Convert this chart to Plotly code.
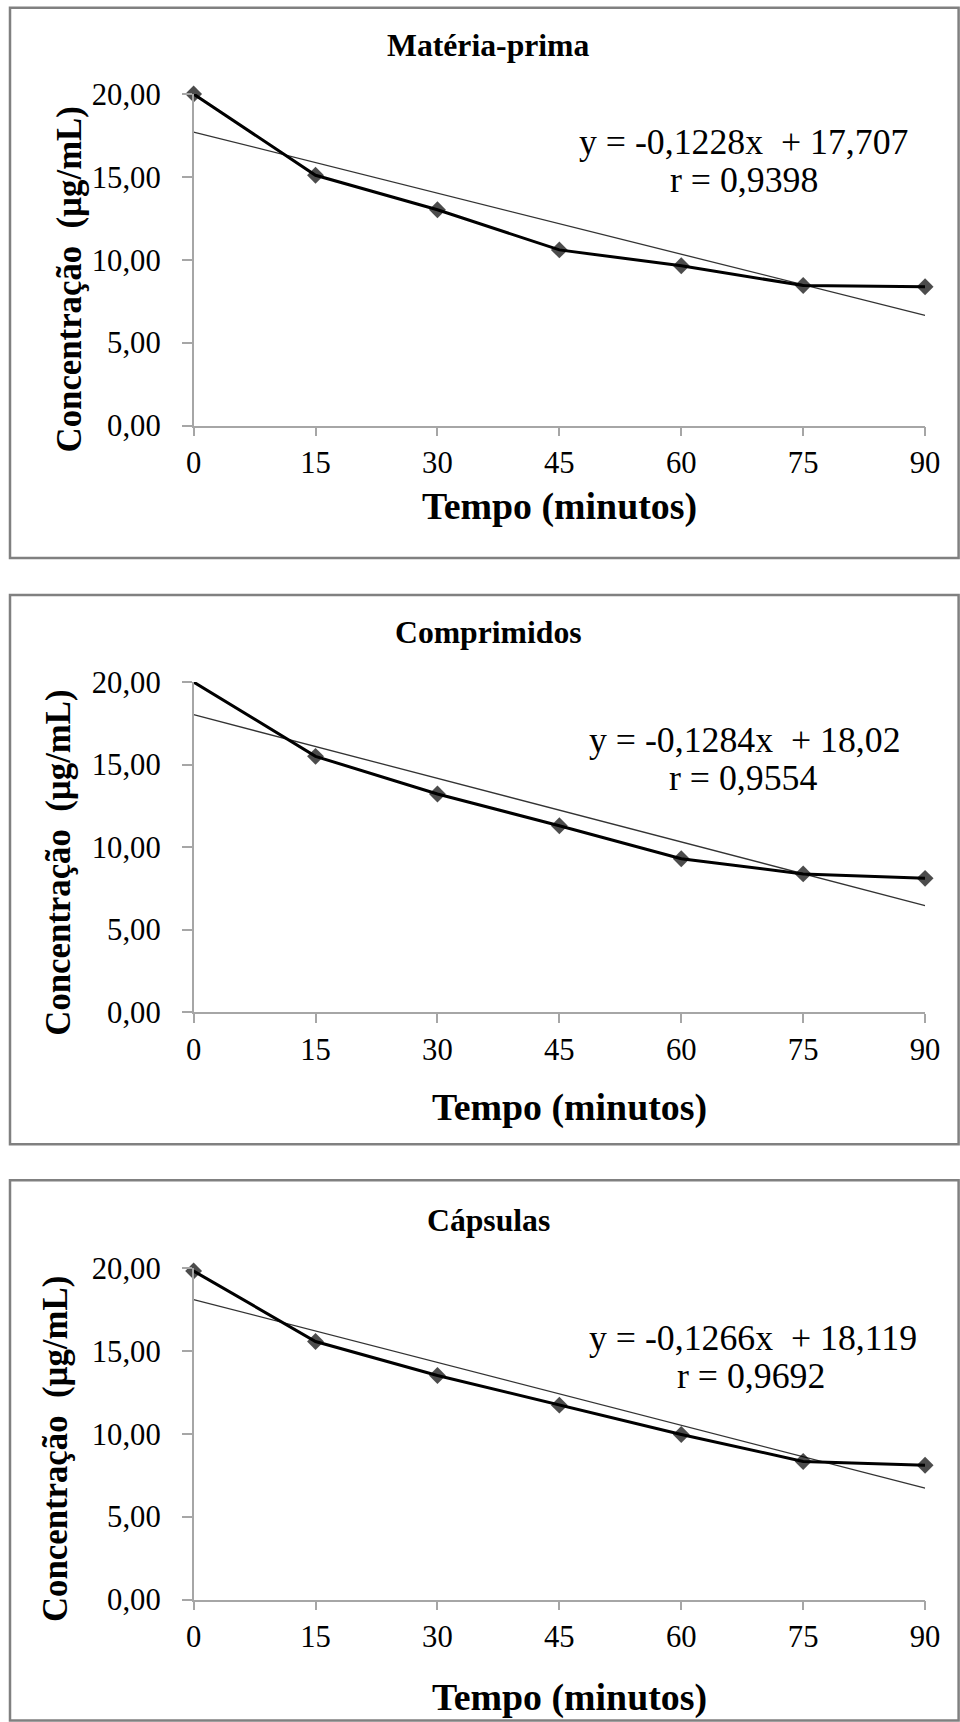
import plotly.graph_objects as go

# ---------------- data ----------------
tempo = [0, 15, 30, 45, 60, 75, 90]
materia_prima = [20.00, 15.10, 13.02, 10.60, 9.64, 8.45, 8.38]
comprimidos = [20.00, 15.50, 13.22, 11.30, 9.30, 8.38, 8.11]
capsulas = [19.84, 15.58, 13.53, 11.74, 9.97, 8.34, 8.11]
series = [materia_prima, comprimidos, capsulas]
titulos = ["Matéria-prima", "Comprimidos", "Cápsulas"]
slopes = [-0.1228, -0.1284, -0.1266]
intercepts = [17.707, 18.02, 18.119]
eq_texts = ["y = -0,1228x&nbsp; + 17,707", "y = -0,1284x&nbsp; + 18,02", "y = -0,1266x&nbsp; + 18,119"]
r_texts = ["r = 0,9398", "r = 0,9554", "r = 0,9692"]
first_marker = [True, False, True]
x_ticks = [0, 15, 30, 45, 60, 75, 90]
y_ticks = [0, 5, 10, 15, 20]
y_tick_labels = ["0,00", "5,00", "10,00", "15,00", "20,00"]
x_title = "Tempo (minutos)"
y_title = "Concentração&nbsp; (µg/mL)"

# ---------------- geometry ----------------
# Observed page mapping: screen = O + S * figure
SX, OX = 0.976, 7.5
SY, OY = 0.980, 16.3
W, H = 984, 1745
def px(x):
    return ((x - OX) / SX) / W
def py(y):
    return 1 - ((y - OY) / SY) / H
def fs(v):
    return v / ((SX + SY) / 2)

plot_x = (193, 924)
panels = [
    dict(y20=94.3, y0=425.7, box=(9.5, 8, 957.5, 558), title=(488, 46), xt=(559, 507), yt=(69, 280), eq=(743, 142), r=(743, 180)),
    dict(y20=682, y0=1012, box=(9.5, 595, 957.5, 1144), title=(488, 632), xt=(569, 1107), yt=(58, 863), eq=(744, 740), r=(742, 778)),
    dict(y20=1268, y0=1599, box=(9.5, 1180, 957.5, 1720), title=(488, 1220), xt=(569, 1697), yt=(55, 1449), eq=(752, 1338), r=(750, 1376)),
]

FONT = "Liberation Serif, Times New Roman, serif"
AXIS_COLOR = "#a6a6a6"

fig = go.Figure()
layout = dict(
    width=W, height=H, margin=dict(l=0, r=0, t=0, b=0),
    paper_bgcolor="white", plot_bgcolor="white", showlegend=False,
    font=dict(family=FONT, color="black"),
)
annotations = []
shapes = []

for i, p in enumerate(panels):
    n = i + 1
    xa = "x" if n == 1 else f"x{n}"
    ya = "y" if n == 1 else f"y{n}"
    sizes = [13] * len(tempo)
    if not first_marker[i]:
        sizes[0] = 0
    # trend line
    fig.add_trace(go.Scatter(
        x=[tempo[0], tempo[-1]],
        y=[intercepts[i] + slopes[i] * tempo[0], intercepts[i] + slopes[i] * tempo[-1]],
        mode="lines", line=dict(color="#333333", width=1.3),
        xaxis=xa, yaxis=ya, hoverinfo="skip", cliponaxis=False))
    # data line
    fig.add_trace(go.Scatter(
        x=tempo, y=series[i], mode="lines+markers",
        line=dict(color="black", width=3),
        marker=dict(symbol="diamond", size=sizes, color="black", line=dict(width=0)),
        xaxis=xa, yaxis=ya, cliponaxis=False))

    xkey = "xaxis" if n == 1 else f"xaxis{n}"
    ykey = "yaxis" if n == 1 else f"yaxis{n}"
    layout[xkey] = dict(
        domain=[px(plot_x[0]), px(plot_x[1])], range=[0, 90], anchor=ya,
        tickvals=x_ticks, ticktext=[str(v) for v in x_ticks],
        ticks="outside", ticklen=9, tickcolor=AXIS_COLOR, tickwidth=1.5,
        showline=True, linecolor=AXIS_COLOR, linewidth=1.5,
        showgrid=False, zeroline=False, ticklabelstandoff=0,
        tickfont=dict(family=FONT, size=fs(30), color="black"),
    )
    layout[ykey] = dict(
        domain=[py(p["y0"]), py(p["y20"])], range=[0, 20], anchor=xa,
        tickvals=y_ticks, ticktext=y_tick_labels,
        ticks="outside", ticklen=10, tickcolor=AXIS_COLOR, tickwidth=1.5,
        showline=True, linecolor=AXIS_COLOR, linewidth=1.5,
        showgrid=False, zeroline=False, ticklabelstandoff=15,
        tickfont=dict(family=FONT, size=fs(30), color="black"),
    )
    bx0, by0, bx1, by1 = p["box"]
    shapes.append(dict(type="rect", xref="paper", yref="paper",
                       x0=px(bx0), x1=px(bx1), y0=py(by1), y1=py(by0),
                       line=dict(color="#808080", width=2.5), layer="below"))
    annotations.append(dict(text=f"<b>{titulos[i]}</b>", x=px(p["title"][0]), y=py(p["title"][1]),
                            xref="paper", yref="paper", showarrow=False, xanchor="center", yanchor="middle",
                            font=dict(family=FONT, size=fs(31), color="black")))
    annotations.append(dict(text=f"<b>{x_title}</b>", x=px(p["xt"][0]), y=py(p["xt"][1]),
                            xref="paper", yref="paper", showarrow=False, xanchor="center", yanchor="middle",
                            font=dict(family=FONT, size=fs(37), color="black")))
    annotations.append(dict(text=f"<b>{y_title}</b>", x=px(p["yt"][0]), y=py(p["yt"][1]), textangle=-90,
                            xref="paper", yref="paper", showarrow=False, xanchor="center", yanchor="middle",
                            font=dict(family=FONT, size=fs(34), color="black")))
    annotations.append(dict(text=eq_texts[i], x=px(p["eq"][0]), y=py(p["eq"][1]),
                            xref="paper", yref="paper", showarrow=False, xanchor="center", yanchor="middle",
                            font=dict(family=FONT, size=fs(35), color="black")))
    annotations.append(dict(text=r_texts[i], x=px(p["r"][0]), y=py(p["r"][1]),
                            xref="paper", yref="paper", showarrow=False, xanchor="center", yanchor="middle",
                            font=dict(family=FONT, size=fs(35), color="black")))

layout["annotations"] = annotations
layout["shapes"] = shapes
fig.update_layout(**layout)
fig.write_html("out.html", config={"displayModeBar": False})
